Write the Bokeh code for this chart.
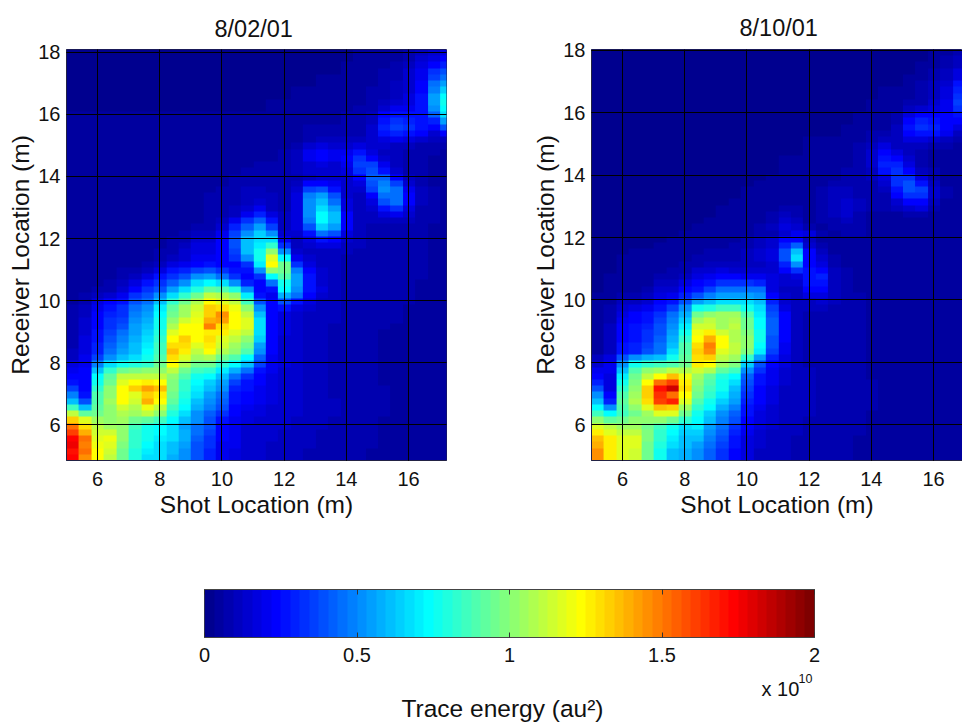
import numpy as np
from bokeh.plotting import figure
from bokeh.models import LinearColorMapper, LinearAxis, FixedTicker, Range1d
from bokeh.core.properties import value
from bokeh.layouts import column, row
from bokeh.embed import file_html
from bokeh.resources import INLINE

dates = ["8/02/01", "8/10/01"]
x_ticks = [6, 8, 10, 12, 14, 16]
y_ticks = [6, 8, 10, 12, 14, 16, 18]
cb_ticks = [0, 0.5, 1, 1.5, 2]
cb_labels = {0: "0", 0.5: "0.5", 1: "1", 1.5: "1.5", 2: "2"}
cell = 0.4  # shot spacing of the grid columns (m)

# Trace energy in units of 0.01 x 10^10, rows from top (18 m) to bottom (4.85 m)
left_rows = [
[3,3,3,3,3,3,3,3,3,3, 3,3,3,3,3,3,3,3,3,3, 3,3,3,4,4,4,5,7,10,14,16],
[3,3,3,3,3,3,3,3,3,3, 3,3,3,3,3,3,3,3,3,3, 3,3,3,4,4,5,6,8,13,18,22],
[3,3,3,3,3,3,3,3,3,3, 3,3,3,3,3,3,3,3,3,3, 3,3,4,4,5,6,7,10,16,24,30],
[3,3,3,3,3,3,3,3,3,3, 3,3,3,3,3,3,3,3,3,3, 3,3,4,5,5,7,8,13,19,32,40],
[3,3,3,3,3,3,3,3,3,3, 3,3,3,3,3,3,3,3,3,3, 4,4,4,5,5,7,9,13,20,36,44],
[3,3,3,3,3,3,3,3,3,3, 3,3,3,3,3,3,3,3,3,3, 4,4,4,5,6,8,10,14,22,44,56],
[3,3,3,3,3,3,3,3,3,3, 3,3,3,3,3,3,3,3,4,4, 4,4,5,6,7,9,11,15,23,49,64],
[3,3,3,3,3,3,3,3,3,3, 3,3,3,3,3,3,3,3,4,4, 4,5,5,6,7,9,12,16,25,54,73],
[3,3,3,3,3,3,3,3,3,3, 3,3,3,3,3,3,4,4,4,5, 5,5,6,6,8,10,14,17,26,56,77],
[3,3,3,3,3,3,3,3,3,3, 3,3,3,3,3,3,4,4,4,5, 5,5,6,7,9,15,20,21,28,52,74],
[4,4,4,4,4,4,4,4,4,4, 4,4,4,4,4,4,4,5,5,6, 6,6,7,8,11,22,28,26,28,42,68],
[4,4,4,4,4,4,4,4,4,4, 4,4,4,4,4,4,4,5,5,6, 6,6,7,8,12,28,34,31,28,30,54],
[4,4,4,4,4,4,4,4,4,4, 4,4,4,4,4,4,5,5,6,7, 8,8,8,8,13,29,35,32,27,22,38],
[4,4,4,4,4,4,4,4,4,4, 4,4,4,4,4,5,5,5,6,8, 9,9,9,9,13,26,30,27,22,15,22],
[4,4,4,4,4,4,4,4,4,4, 4,4,4,4,5,5,5,6,6,9, 11,11,11,11,13,18,19,16,13,10,12],
[4,4,4,4,4,4,4,4,4,4, 4,4,4,4,5,5,5,6,8,13, 16,15,14,16,14,13,12,10,9,7,7],
[4,4,4,4,4,4,4,4,4,4, 4,4,4,5,5,6,6,7,11,19, 23,20,19,26,18,12,11,9,8,7,6],
[4,4,4,4,4,4,4,4,4,4, 4,4,4,5,5,6,6,7,12,19, 22,20,22,32,24,15,10,8,7,6,6],
[4,4,4,4,4,4,4,4,4,4, 4,5,5,6,6,7,7,8,11,15, 17,15,20,37,36,20,10,8,7,6,6],
[4,4,4,4,4,4,4,4,4,4, 5,5,5,6,7,7,7,8,10,14, 15,14,18,33,40,28,15,9,7,6,6],
[4,4,4,4,4,4,4,4,4,4, 5,5,6,7,8,8,8,8,9,12, 13,14,15,24,43,42,24,10,7,6,6],
[4,4,4,4,4,4,4,4,4,5, 5,6,6,7,9,9,8,8,10,22, 24,20,13,17,40,49,36,15,8,6,6],
[4,4,4,4,4,4,4,4,4,5, 5,6,7,8,10,10,9,8,14,36, 40,28,13,14,36,52,46,20,10,7,6],
[4,4,4,4,4,4,4,4,5,5, 6,7,7,8,10,12,10,8,17,47, 54,40,14,11,24,46,46,22,10,7,6],
[4,4,4,4,4,4,4,4,5,5, 6,7,8,8,10,13,10,8,18,50, 60,46,16,10,18,38,44,22,10,7,6],
[4,4,4,4,4,4,4,5,5,6, 6,7,8,10,14,20,12,9,18,50, 66,54,18,11,13,28,32,18,9,7,6],
[4,4,4,4,4,4,4,5,5,6, 6,7,8,12,20,30,18,10,18,52, 74,62,22,12,10,16,19,13,8,7,6],
[4,4,4,4,4,4,5,5,5,6, 6,7,11,20,32,42,26,11,18,48, 72,60,22,12,10,12,12,10,8,7,6],
[4,4,4,4,4,4,5,5,6,6, 7,8,14,30,42,56,36,12,16,40, 64,56,22,12,9,9,9,8,7,6,6],
[4,4,4,4,4,5,5,5,6,7, 10,11,20,36,52,64,52,14,14,28, 46,40,18,11,9,8,8,7,7,6,6],
[4,4,4,4,4,5,5,6,7,9, 13,14,24,38,60,66,66,20,12,16, 28,24,15,10,9,8,8,7,7,6,6],
[4,4,4,4,5,5,6,6,8,12, 16,16,24,38,62,70,84,34,12,13, 18,16,12,10,9,8,8,7,7,6,6],
[4,4,4,5,5,6,6,7,9,13, 17,17,22,36,62,76,102,52,15,12, 12,11,10,9,8,8,8,7,7,6,6],
[4,4,4,5,5,6,6,8,12,15, 19,20,22,32,50,76,116,74,20,13, 11,10,9,9,8,8,8,7,7,6,6],
[4,4,5,5,6,6,7,10,16,19, 23,26,22,24,34,70,122,94,34,16, 12,10,9,9,8,8,8,7,7,6,6],
[4,4,5,6,7,8,12,18,26,30, 36,40,32,26,26,52,100,96,48,22, 13,10,9,9,8,8,7,7,7,6,6],
[4,5,5,6,8,11,18,25,33,40, 50,54,46,32,22,34,72,90,54,26, 14,10,9,9,8,8,7,7,7,6,6],
[4,5,6,7,10,16,26,32,42,52, 66,72,68,52,30,22,44,78,56,28, 15,10,9,9,8,8,7,7,6,6,6],
[5,5,7,9,13,24,33,40,54,66, 80,92,90,80,50,22,26,72,52,28, 16,10,9,9,8,8,7,7,6,6,6],
[5,7,11,15,20,32,40,50,68,82, 96,110,108,100,70,28,20,58,44,24, 14,10,9,8,8,8,7,7,6,6,6],
[6,9,16,24,28,40,46,62,84,96, 108,124,118,112,86,38,22,40,28,17, 11,10,9,8,8,8,7,7,6,6,6],
[7,11,20,28,32,46,52,70,92,104, 115,132,130,120,100,52,24,26,18,13, 10,10,9,8,8,7,7,6,6,6,6],
[8,12,23,31,33,49,55,72,94,106, 116,134,145,124,110,60,23,17,15,12, 10,10,9,8,8,7,7,6,6,6,5],
[8,13,24,33,37,52,58,75,102,114, 120,140,142,124,116,66,22,16,14,12, 10,10,9,8,8,7,7,6,6,5,5],
[8,14,24,34,39,54,60,78,108,122, 122,148,130,122,118,68,24,16,13,12, 10,9,8,8,7,7,6,6,6,5,5],
[8,15,26,36,44,56,63,80,118,122, 122,128,126,116,110,66,24,16,13,12, 10,9,8,8,7,6,6,6,5,5,5],
[8,16,28,38,47,58,66,84,124,132, 122,130,118,112,102,64,24,15,13,12, 10,9,8,8,7,6,6,6,5,5,5],
[9,17,29,41,51,60,69,85,130,130, 118,126,114,105,94,56,23,15,13,12, 10,9,8,7,7,6,6,5,5,5,5],
[10,18,30,44,54,62,72,86,136,128, 112,124,108,100,88,52,22,15,13,12, 10,9,8,7,7,6,6,5,5,5,5],
[12,20,36,52,62,68,76,88,130,118, 104,108,96,88,74,42,21,15,13,12, 10,9,8,7,7,6,6,5,5,5,5],
[18,21,48,68,76,80,84,94,122,108, 96,96,84,74,62,36,20,16,13,12, 10,9,8,7,7,6,6,5,5,5,5],
[20,23,62,82,94,98,100,102,110,96, 86,82,70,58,46,28,19,15,13,12, 10,9,8,8,7,6,6,5,5,5,5],
[22,24,72,92,110,112,112,110,102,90, 78,72,60,44,34,24,18,15,13,12, 10,9,8,8,7,6,6,5,5,5,5],
[28,23,78,96,118,122,128,124,98,84, 74,64,54,36,28,22,17,15,13,12, 10,9,8,8,7,6,6,5,5,5,5],
[36,22,84,100,122,134,142,136,98,82, 70,60,50,30,26,20,17,15,13,12, 11,9,8,8,7,7,6,6,5,5,5],
[48,27,88,102,124,118,132,128,94,80, 66,56,46,28,24,20,16,14,13,12, 11,9,8,8,7,7,6,6,5,5,5],
[62,38,90,104,122,114,140,122,92,78, 62,52,42,26,22,19,16,14,13,12, 11,10,9,8,7,7,6,6,5,5,5],
[86,62,92,102,114,108,120,112,86,72, 58,48,38,24,20,18,15,14,13,12, 11,10,9,8,7,7,6,6,5,5,5],
[110,92,96,100,108,104,110,100,80,66, 52,42,32,22,18,17,15,14,13,12, 10,10,9,8,7,7,6,6,5,5,5],
[134,118,104,102,104,94,92,86,74,62, 50,40,28,21,16,15,14,13,12,12, 10,9,9,8,7,6,6,5,5,5,5],
[150,130,110,104,100,86,76,74,68,56, 46,38,24,20,14,14,13,13,12,11, 10,9,8,8,7,6,6,5,5,5,5],
[162,140,114,114,100,84,76,72,66,58, 44,36,23,20,14,14,13,12,11,11, 9,9,8,7,7,6,6,5,5,5,5],
[172,152,118,120,100,82,76,70,66,58, 42,34,22,20,14,14,13,12,11,10, 9,8,8,7,7,6,6,5,5,5,5],
[176,148,120,118,98,82,72,68,62,54, 40,32,21,19,14,13,12,12,10,10, 9,8,8,7,7,6,6,5,5,5,5],
[170,150,124,114,96,80,70,66,60,52, 38,30,20,18,14,13,12,11,10,9, 8,8,7,7,6,6,5,5,5,5,5],
[174,146,124,112,94,80,68,66,58,50, 38,30,20,18,14,13,12,11,10,9, 8,8,7,7,6,6,5,5,5,5,5],
]

right_rows = [
[3,3,3,3,3,3,3,3,3,3, 3,3,3,3,3,3,3,3,3,3, 3,3,3,3,3,3,3,4,6,8,9],
[3,3,3,3,3,3,3,3,3,3, 3,3,3,3,3,3,3,3,3,3, 3,3,3,3,3,3,3,5,7,10,11],
[3,3,3,3,3,3,3,3,3,3, 3,3,3,3,3,3,3,3,3,3, 3,3,3,3,3,3,4,6,8,12,14],
[3,3,3,3,3,3,3,3,3,3, 3,3,3,3,3,3,3,3,3,3, 3,3,3,3,3,3,5,8,10,16,19],
[3,3,3,3,3,3,3,3,3,3, 3,3,3,3,3,3,3,3,3,3, 3,3,3,3,3,4,5,8,11,18,21],
[3,3,3,3,3,3,3,3,3,3, 3,3,3,3,3,3,3,3,3,3, 3,3,3,3,3,4,7,10,14,26,28],
[3,3,3,3,3,3,3,3,3,3, 3,3,3,3,3,3,3,3,3,3, 3,3,3,4,4,5,7,11,16,30,33],
[3,3,3,3,3,3,3,3,3,3, 3,3,3,3,3,3,3,3,3,3, 3,3,3,4,5,6,8,12,18,34,36],
[3,3,3,3,3,3,3,3,3,3, 3,3,3,3,3,3,3,3,3,3, 3,3,4,4,5,7,9,13,20,36,38],
[3,3,3,3,3,3,3,3,3,3, 3,3,3,3,3,3,3,3,3,3, 3,3,4,4,6,11,14,17,21,32,34],
[3,3,3,3,3,3,3,3,3,3, 3,3,3,3,3,3,3,3,3,3, 3,4,4,5,8,17,24,22,22,28,30],
[3,3,3,3,3,3,3,3,3,3, 3,3,3,3,3,3,3,3,3,3, 3,4,4,5,8,22,30,28,22,22,20],
[3,3,3,3,3,3,3,3,3,3, 3,3,3,3,3,3,3,3,3,3, 4,4,5,6,10,28,34,30,24,18,16],
[3,3,3,3,3,3,3,3,3,3, 3,3,3,3,3,3,3,3,3,3, 4,5,7,8,10,24,28,25,19,12,10],
[3,3,3,3,3,3,3,3,3,3, 3,3,3,3,3,3,3,4,4,4, 5,6,9,11,10,16,18,15,11,8,6],
[3,3,3,3,3,3,3,3,3,3, 3,3,3,3,3,3,3,4,4,5, 5,7,12,16,12,11,10,8,7,6,5],
[3,3,3,3,3,3,3,3,3,3, 3,3,3,3,3,3,3,4,4,5, 6,8,13,22,18,10,8,6,5,5,5],
[3,3,3,3,3,3,3,3,3,3, 3,3,3,3,3,4,4,4,5,5, 6,8,14,26,24,13,8,6,5,5,5],
[3,3,3,3,3,3,3,3,3,3, 3,3,3,3,3,4,4,4,5,6, 6,7,14,29,30,16,8,6,5,5,5],
[3,3,3,3,3,3,3,3,3,3, 3,3,3,3,3,4,4,4,5,6, 7,7,12,25,32,22,11,7,5,5,5],
[3,3,3,3,3,3,3,3,3,3, 3,3,3,3,4,4,4,5,5,6, 7,7,10,18,34,32,16,8,6,5,5],
[3,3,3,3,3,3,3,3,3,3, 3,3,3,4,4,4,5,5,6,8, 9,8,9,14,32,38,26,11,6,5,5],
[3,3,3,3,3,3,3,3,3,3, 3,3,4,4,4,4,5,5,7,10, 11,8,8,10,28,40,36,14,7,5,5],
[3,3,3,3,3,3,3,3,3,3, 3,3,4,4,4,5,5,5,7,11, 12,9,8,9,22,32,32,14,7,5,5],
[3,3,3,3,3,3,3,3,3,3, 3,4,4,4,5,5,5,5,7,12, 14,10,7,8,14,22,24,12,6,5,5],
[3,3,3,3,3,3,3,3,3,3, 4,4,4,5,6,7,7,6,7,12, 14,10,7,7,10,15,16,9,6,5,5],
[3,3,3,3,3,3,3,3,3,3, 4,4,4,5,8,10,8,6,7,11, 13,9,6,6,6,7,7,6,5,5,5],
[3,3,3,3,3,3,3,3,3,4, 4,4,4,5,9,13,10,6,7,9, 10,8,6,6,6,6,6,6,5,5,5],
[3,3,3,3,3,3,3,3,4,4, 4,5,6,8,12,18,14,7,6,8, 8,7,6,6,5,5,5,5,5,5,4],
[3,3,3,3,3,3,3,4,4,4, 4,5,6,7,9,13,20,18,8,6, 7,7,6,6,6,5,5,5,5,5,4],
[3,3,3,3,3,3,4,4,4,5, 5,6,7,10,14,22,22,10,6,6, 6,6,6,5,5,5,5,5,5,4,4],
[3,3,3,3,3,4,4,4,5,5, 6,7,8,11,15,30,42,15,8,6, 6,6,6,5,5,5,5,5,5,4,4],
[3,3,3,4,4,4,5,5,6,7, 8,9,10,14,18,40,62,22,10,6, 6,6,6,5,5,5,5,5,4,4,4],
[3,3,4,4,4,4,5,6,7,8, 9,9,10,13,16,38,66,24,13,7, 6,6,6,5,5,5,5,5,4,4,4],
[3,3,4,4,4,5,6,7,9,10, 11,10,10,12,14,30,52,24,18,8, 6,6,6,5,5,5,5,5,4,4,4],
[3,3,4,4,5,6,7,9,13,14, 16,15,14,15,15,22,32,25,24,10, 7,6,6,5,5,5,5,5,4,4,4],
[3,4,4,4,5,7,9,12,18,20, 24,24,20,20,16,14,18,26,30,12, 7,6,6,6,5,5,5,5,4,4,4],
[3,4,4,5,6,10,11,16,22,28, 32,34,32,30,18,13,14,26,28,12, 7,6,6,6,5,5,5,5,4,4,4],
[3,4,5,6,8,14,14,22,28,36, 44,44,46,44,18,12,12,22,22,12, 7,6,6,6,5,5,5,5,4,4,4],
[4,5,7,9,11,18,20,30,40,48, 54,56,56,52,24,13,12,17,18,11, 7,7,6,6,5,5,5,5,4,4,4],
[4,6,10,12,14,22,28,40,56,60, 66,68,68,62,30,14,12,12,14,10, 7,7,6,6,5,5,5,5,4,4,4],
[4,7,14,17,20,28,37,50,76,80, 86,86,78,66,35,18,11,10,10,9, 7,7,6,6,5,5,5,5,4,4,4],
[4,8,18,22,26,34,46,58,96,100, 104,104,90,70,40,22,10,9,8,8, 7,7,6,6,6,5,5,5,4,4,4],
[5,9,20,24,28,36,49,64,106,110, 106,108,94,72,41,23,10,9,8,8, 7,7,6,6,5,5,5,5,4,4,4],
[5,10,22,26,30,38,52,70,114,114, 106,110,96,74,42,24,10,9,8,8, 7,7,6,6,5,5,5,5,4,4,4],
[5,10,23,27,32,40,55,78,120,128, 114,108,98,75,41,23,10,9,8,8, 7,7,6,6,5,5,5,5,4,4,4],
[5,10,24,28,34,42,58,84,124,138, 122,108,100,76,40,22,10,9,8,8, 7,7,6,6,5,5,5,4,4,4,4],
[5,11,25,29,36,44,62,88,130,148, 122,110,100,74,38,21,10,9,8,8, 7,7,6,6,5,5,5,4,4,4,4],
[6,12,26,30,38,46,66,90,132,146, 118,110,98,70,36,20,10,9,8,8, 7,7,6,6,5,5,5,4,4,4,4],
[10,16,38,50,58,62,76,92,130,134, 110,104,82,56,30,18,10,9,8,8, 7,7,6,6,5,5,5,4,4,4,4],
[14,20,52,76,84,86,88,96,126,124, 104,98,64,40,22,16,10,9,9,8, 7,7,6,6,5,5,5,4,4,4,4],
[20,19,62,88,100,106,112,108,114,108, 92,86,52,33,21,15,11,10,9,8, 8,7,6,6,5,5,5,4,4,4,4],
[24,18,70,96,112,124,136,120,104,92, 80,74,42,28,20,14,11,10,9,8, 8,7,6,6,5,5,5,5,4,4,4],
[30,17,78,98,124,150,160,126,100,88, 78,68,38,26,19,13,11,10,9,8, 8,7,7,6,5,5,5,5,4,4,4],
[38,16,84,100,134,170,182,130,98,86, 76,62,36,24,18,12,11,10,9,8, 8,7,7,6,6,5,5,5,4,4,4],
[50,22,88,104,134,165,150,124,94,82, 70,58,33,23,17,12,11,10,9,8, 8,7,7,6,6,5,5,5,4,4,4],
[62,30,92,108,130,160,166,118,90,78, 64,54,30,22,16,12,11,10,9,8, 8,7,7,6,6,5,5,5,4,4,4],
[74,50,90,102,118,136,132,106,84,72, 58,48,28,20,15,12,11,10,9,8, 7,7,7,6,5,5,5,5,4,4,4],
[86,72,86,96,104,118,118,96,78,64, 52,42,26,18,14,12,11,10,9,8, 7,7,6,6,5,5,5,5,4,4,4],
[102,92,96,100,100,102,96,82,74,60, 48,38,24,17,14,11,10,9,9,8, 7,7,6,6,5,5,5,5,4,4,4],
[118,110,106,104,96,86,76,68,70,56, 44,34,22,16,13,11,10,9,9,8, 7,7,6,6,5,5,5,4,4,4,4],
[128,118,110,110,97,84,73,65,65,52, 41,31,20,15,12,10,10,9,8,8, 7,7,6,6,5,5,5,4,4,4,4],
[136,126,116,118,98,82,70,62,60,48, 38,28,18,14,12,10,9,9,8,7, 7,6,6,5,5,5,4,4,4,4,4],
[140,128,116,116,96,80,66,60,56,45, 36,26,17,13,11,10,9,8,8,7, 7,6,6,5,5,5,4,4,4,4,4],
[144,128,118,114,94,78,62,58,52,42, 34,24,16,12,11,10,9,8,8,7, 7,6,6,5,5,4,4,4,4,4,4],
[146,128,118,114,94,78,62,58,52,42, 34,24,16,12,11,10,9,8,8,7, 7,6,6,5,5,4,4,4,4,4,4],
]

FONT = "Liberation Sans"
TEXT = "#111111"


def jet(n=64):
    out = []
    for i in range(n):
        t = (i + 1) / n
        r = np.clip(min(4 * t - 1.5, -4 * t + 4.5), 0, 1)
        g = np.clip(min(4 * t - 0.5, -4 * t + 3.5), 0, 1)
        b = np.clip(min(4 * t + 0.5, -4 * t + 2.5), 0, 1)
        out.append("#%02x%02x%02x" % (int(r * 255), int(g * 255), int(b * 255)))
    return out


palette = jet()
mapper = LinearColorMapper(palette=palette, low=0, high=200)


def panel(rows, title, width, height, left, right, top, bottom, xr, yr, standoff):
    p = figure(width=width, height=height, output_backend="svg", toolbar_location=None,
               x_range=Range1d(*xr), y_range=Range1d(*yr),
               min_border_left=left, min_border_right=right,
               min_border_top=top, min_border_bottom=bottom,
               title=title, x_axis_label="Shot Location (m)", y_axis_label="Receiver Location (m)")
    arr = np.array(rows, dtype=float)[::-1]
    p.image(image=[arr], x=xr[0], y=yr[0], dw=arr.shape[1] * cell, dh=yr[1] - yr[0], color_mapper=mapper)
    p.title.align = "left"
    p.title.offset = 148
    p.title.standoff = standoff
    p.title.text_font = FONT
    p.title.text_font_size = "23.5px"
    p.title.text_font_style = "normal"
    p.title.text_color = TEXT
    p.xaxis.ticker = FixedTicker(ticks=x_ticks)
    p.yaxis.ticker = FixedTicker(ticks=y_ticks)
    for ax in (p.xaxis[0], p.yaxis[0]):
        ax.major_tick_in = 4
        ax.major_tick_out = 0
        ax.minor_tick_in = 0
        ax.minor_tick_out = 0
        ax.axis_line_color = "#222244"
        ax.major_tick_line_color = "#000000"
        ax.major_label_text_font = FONT
        ax.major_label_text_font_size = "20px"
        ax.major_label_text_color = TEXT
        ax.axis_label_text_font = FONT
        ax.axis_label_text_font_size = "24.5px"
        ax.axis_label_text_font_style = "normal"
        ax.axis_label_text_color = TEXT
    p.xaxis.major_label_standoff = 11
    p.xaxis.axis_label_standoff = 2
    p.yaxis.major_label_standoff = 6
    p.yaxis.axis_label_standoff = 1
    p.grid.grid_line_color = "#000000"
    p.grid.grid_line_alpha = 1
    p.grid.grid_line_width = 1
    p.grid.level = "overlay"
    p.xgrid.ticker = FixedTicker(ticks=x_ticks)
    p.ygrid.ticker = FixedTicker(ticks=y_ticks)
    p.outline_line_color = "#222244"
    return p


p1 = panel(left_rows, dates[0], 500, 522, 66, 54, 47, 62, (5.0, 17.22), (4.84, 18.096), 15)
p2 = panel(right_rows, dates[1], 462, 522, 91, 0, 49, 61, (5.0, 16.93), (4.85, 18.03), 17)

cb = figure(width=962, height=150, output_backend="svg", toolbar_location=None,
            x_range=Range1d(0, 2), y_range=Range1d(0, 1),
            min_border_left=204, min_border_right=148, min_border_top=67, min_border_bottom=35)
levels = np.arange(len(palette), dtype=float).reshape(1, -1)
cb_mapper = LinearColorMapper(palette=palette, low=0, high=len(palette) - 1)
cb.image(image=[levels], x=0, y=0, dw=2, dh=1, color_mapper=cb_mapper)
cb.grid.visible = False
cb.yaxis.visible = False
cb.xaxis.ticker = FixedTicker(ticks=cb_ticks)
cb.xaxis.major_label_overrides = cb_labels
cb.xaxis.major_tick_in = 5
cb.xaxis.major_tick_out = 0
cb.xaxis.minor_tick_in = 0
cb.xaxis.minor_tick_out = 0
cb.xaxis.axis_line_color = "#444444"
cb.xaxis.major_tick_line_color = "#333333"
cb.xaxis.major_label_text_font = FONT
cb.xaxis.major_label_text_font_size = "20px"
cb.xaxis.major_label_text_color = TEXT
cb.xaxis.major_label_standoff = 10
top_axis = LinearAxis(ticker=FixedTicker(ticks=cb_ticks), major_label_overrides={t: "" for t in cb_ticks},
                      major_tick_in=5, major_tick_out=0, minor_tick_in=0, minor_tick_out=0,
                      axis_line_color="#444444", major_tick_line_color="#333333")
cb.add_layout(top_axis, "above")
cb.outline_line_color = "#444444"

# Caption strip below the colour bar
cap = figure(width=962, height=51, output_backend="svg", toolbar_location=None,
             x_range=Range1d(204, 814), y_range=Range1d(723, 672),
             min_border_left=204, min_border_right=148, min_border_top=0, min_border_bottom=0)
cap.axis.visible = False
cap.grid.visible = False
cap.outline_line_color = None
for text, x, y, size, align in [("x 10", 761, 688, "20px", "left"),
                                ("10", 798, 678, "12.5px", "left"),
                                ("Trace energy (au²)", 502, 708, "24.5px", "center")]:
    cap.text(x=[x], y=[y], text=[text], text_font=value(FONT), text_font_size=value(size),
             text_color=TEXT, text_align=align, text_baseline="alphabetic")

page = column(row(p1, p2, spacing=0), cb, cap, spacing=0)
open("out.html", "w").write(file_html(page, INLINE))
